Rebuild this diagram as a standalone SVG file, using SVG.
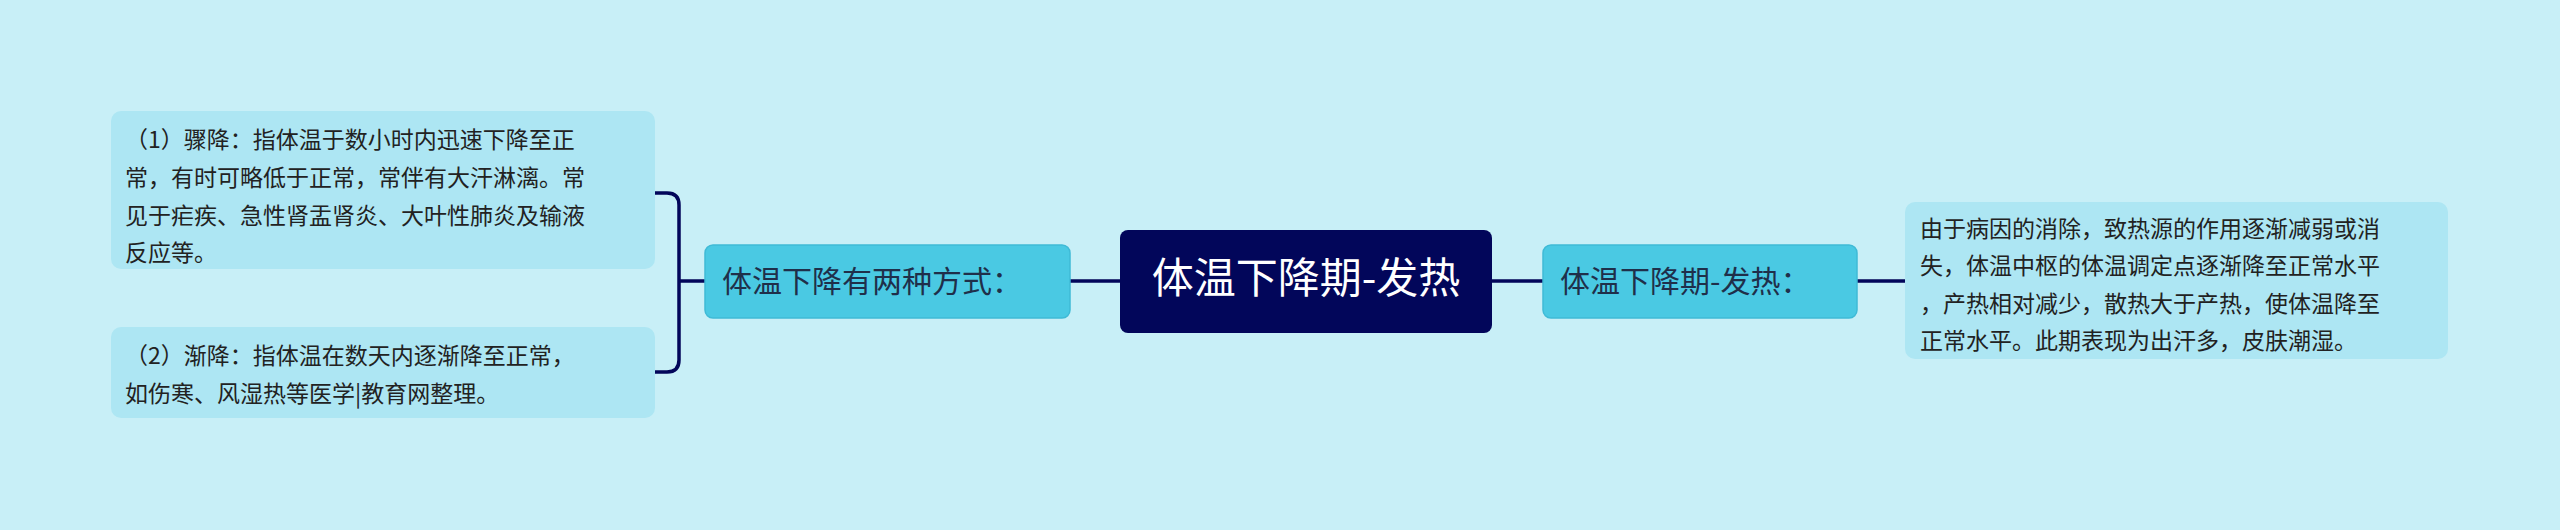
<svg xmlns="http://www.w3.org/2000/svg" width="2560" height="530" viewBox="0 0 2560 530">
<style>
.t{font-family:"Noto Sans CJK SC","Liberation Sans",sans-serif;}
.leaf rect{fill:#ade6f3;}
.leaf text{font-size:23px;fill:#222;}
.mid rect{fill:#4ac9e3;stroke:#3fbad6;stroke-width:1.5;}
.mid text{font-size:30px;fill:#1f2f4a;}
.c{fill:none;stroke:#02065a;stroke-width:3.5;}
</style>
<rect width="2560" height="530" fill="#c8eff7"/>
<g id="connectors">
<path class="c" d="M1070 281H1120M1492 281H1543M1857 281H1905"/>
<path class="c" d="M655 193H667Q679 193 679 205V360Q679 372 667 372H655M679 281H705"/>
</g>
<g id="center" class="t">
<rect x="1120" y="230" width="372" height="103" rx="8" fill="#02065a"/>
<text x="1306" y="293" font-size="42" fill="#fff" text-anchor="middle">体温下降期-发热</text>
</g>
<g id="leftmid" class="t mid">
<rect x="705" y="245" width="365" height="73" rx="8"/>
<text x="722" y="292">体温下降有两种方式：</text>
</g>
<g id="rightmid" class="t mid">
<rect x="1543" y="245" width="314" height="73" rx="8"/>
<text x="1560" y="292">体温下降期-发热：</text>
</g>
<g id="leaf1" class="t leaf">
<rect x="111" y="111" width="544" height="158" rx="10"/>
<text x="125" y="148">（1）骤降：指体温于数小时内迅速下降至正</text>
<text x="125" y="186">常，有时可略低于正常，常伴有大汗淋漓。常</text>
<text x="125" y="224">见于疟疾、急性肾盂肾炎、大叶性肺炎及输液</text>
<text x="125" y="261">反应等。</text>
</g>
<g id="leaf2" class="t leaf">
<rect x="111" y="327" width="544" height="91" rx="10"/>
<text x="125" y="364">（2）渐降：指体温在数天内逐渐降至正常，</text>
<text x="125" y="402">如伤寒、风湿热等医学|教育网整理。</text>
</g>
<g id="leaf3" class="t leaf">
<rect x="1905" y="202" width="543" height="157" rx="10"/>
<text x="1920" y="237">由于病因的消除，致热源的作用逐渐减弱或消</text>
<text x="1920" y="274">失，体温中枢的体温调定点逐渐降至正常水平</text>
<text x="1920" y="312">，产热相对减少，散热大于产热，使体温降至</text>
<text x="1920" y="349">正常水平。此期表现为出汗多，皮肤潮湿。</text>
</g>
</svg>
